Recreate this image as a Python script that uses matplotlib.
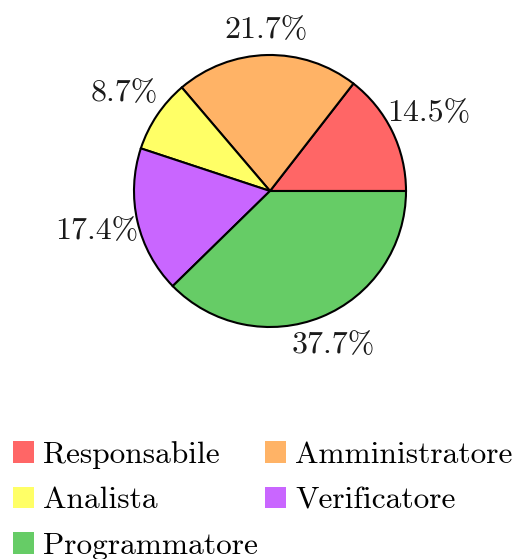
import matplotlib

matplotlib.use("Agg")

import matplotlib.pyplot as plt
import numpy as np
from matplotlib.patches import Patch

# data: share of hours per role (out of 69)
roles = ["Responsabile", "Amministratore", "Analista", "Verificatore", "Programmatore"]
hours = [10, 15, 6, 12, 26]
colors = ["#FF6666", "#FFB366", "#FFFF66", "#C966FF", "#66CC66"]

plt.rcParams["font.family"] = ["cmr10", "DejaVu Serif"]
plt.rcParams["mathtext.fontset"] = "cm"

W, H = 518, 559
fig = plt.figure(figsize=(W / 100, H / 100), dpi=100)

cx, cy, r = 270, 191, 136
ax = fig.add_axes([(cx - r) / W, (H - cy - r) / H, 2 * r / W, 2 * r / H])

wedges, texts, autotexts = ax.pie(
    hours,
    colors=colors,
    startangle=0,
    counterclock=True,
    autopct="%.1f%%",
    wedgeprops=dict(edgecolor="black", linewidth=1.5),
    textprops=dict(fontsize=23, color="#1a1a1a"),
)

# push labels outside, a bit further for labels sitting left/right of the pie
for w, t in zip(wedges, autotexts):
    ang = np.deg2rad((w.theta1 + w.theta2) / 2)
    d = 1.18 + 0.13 * abs(np.cos(ang))
    t.set_position((d * np.cos(ang), d * np.sin(ang)))
    t.set_ha("center")
    t.set_va("center")

ax.set_xlim(-1, 1)
ax.set_ylim(-1, 1)
ax.set_aspect("equal")

# legend filled column-wise, so reorder to read row-wise like the reference
order = [0, 2, 4, 1, 3]
handles = [Patch(facecolor=colors[i], edgecolor="none") for i in order]
labels = [roles[i] for i in order]
fig.legend(
    handles,
    labels,
    ncol=2,
    loc="upper left",
    bbox_to_anchor=(-9 / W, 1 - 419 / H),
    frameon=False,
    fontsize=22.6,
    handlelength=0.67,
    handleheight=0.67,
    handletextpad=0.3,
    columnspacing=0.2,
    labelspacing=0.57,
    borderpad=0.2,
)

fig.savefig("out.png", dpi=100)
plt.close(fig)
